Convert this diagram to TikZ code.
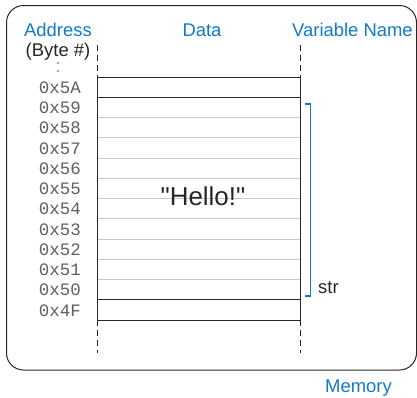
\documentclass[tikz,border=0pt]{standalone}
\usepackage{fontspec}
\setmainfont{Liberation Sans}
\newfontfamily\monof{Liberation Mono}
\definecolor{hblue}{RGB}{18,122,200}
\definecolor{rowgray}{RGB}{200,200,200}
\definecolor{addrgray}{RGB}{95,95,95}
\begin{document}
\begin{tikzpicture}[x=1bp,y=-1bp,
  lbl/.style={text=hblue,font=\fontsize{18.5}{18.5}\selectfont,inner sep=0pt},
  addr/.style={text=addrgray,font=\monof\fontsize{17.5}{17.5}\selectfont,inner sep=0pt,anchor=east},
  darkline/.style={line width=1bp,draw=black!85},
  grayline/.style={line width=1bp,draw=rowgray},
  dashline/.style={line width=1bp,draw=black!85,dash pattern=on 6bp off 4bp}]
\useasboundingbox (0,0) rectangle (417,398);
% outer box
\draw[rounded corners=17bp,line width=1bp,draw=black!85] (6.5,5.5) rectangle (416.5,370);
% headers
\node[lbl] (haddr) at (58,30) {Address};
\node[lbl] (hdata) at (202,30) {Data};
\node[lbl] (hvar) at (352.5,30) {Variable Name};
\node[inner sep=0pt,font=\fontsize{18.5}{18.5}\selectfont,text=black!85] (hbyte) at (58,52) {(Byte \#)};
\fill[black!70] (58,63) circle (0.9bp) (58,71) circle (0.9bp);
% coordinates for memory
\coordinate (tl) at (97,77);
\coordinate (tr) at (300,77);
\coordinate (bl) at (97,320);
\coordinate (br) at (300,320);
% gray row lines
\foreach \i in {2,...,10} {
  \draw[grayline] (97,77+\i*20.25) -- (300,77+\i*20.25);
}
% dark row lines
\foreach \i in {0,1,11,12} {
  \draw[darkline] (97,77+\i*20.25) -- (300,77+\i*20.25);
}
\draw[darkline] (tl) -- (bl);
\draw[darkline] (tr) -- (br);
% dashed extensions
\coordinate (tlx) at (97,45);
\coordinate (trx) at (300,45);
\coordinate (blx) at (97,353);
\coordinate (brx) at (300,353);
\draw[dashline] (tlx) -- (tl);
\draw[dashline] (trx) -- (tr);
\draw[dashline] (bl) -- (blx);
\draw[dashline] (br) -- (brx);
% addresses
\foreach \a [count=\i from 0] in {5A,59,58,57,56,55,54,53,52,51,50,4F} {
  \node[addr] (a\a) at (81,77+\i*20.25+10.5) {0x\a};
}
% data
\node[inner sep=0pt,font=\fontsize{26}{26}\selectfont,text=black!85] (hello) at (203,196) {\textquotedbl Hello!\textquotedbl};
% bracket
\coordinate (bt) at (305,104);
\coordinate (bb) at (305,296);
\draw[hblue,line width=1.2bp] (bt) -| (310.5,296) -- (bb);
\node[inner sep=0pt,anchor=west,font=\fontsize{18.5}{18.5}\selectfont,text=black!85] (str) at (318,288) {str};
% memory label
\node[lbl] (mem) at (358.5,388) {Memory};
\end{tikzpicture}
\end{document}
